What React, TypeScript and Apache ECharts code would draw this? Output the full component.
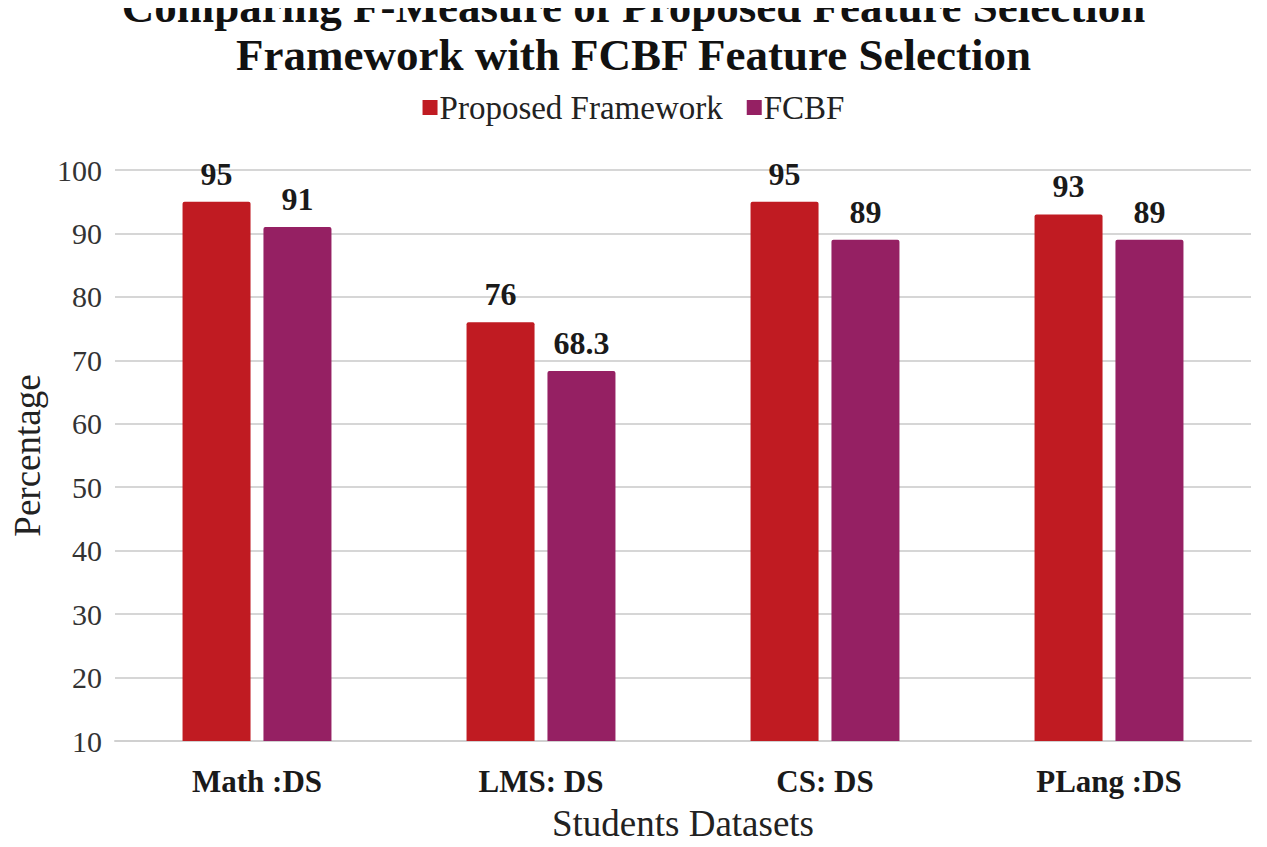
import { useEffect, useRef } from 'react';
import * as echarts from 'echarts';

const categories = ['Math :DS', 'LMS: DS', 'CS: DS', 'PLang :DS'];
const proposed = [95, 76, 95, 93];
const fcbf = [91, 68.3, 89, 89];
const seriesNames = ['Proposed Framework', 'FCBF'];
const yTicks = { min: 10, max: 100, interval: 10 };

const RED = '#C01B22';
const PURPLE = '#952063';
const SERIF = '"Liberation Serif", "Times New Roman", serif';

export default function App() {
  const ref = useRef<HTMLDivElement | null>(null);

  useEffect(() => {
    if (!ref.current) return;
    const chart = echarts.init(ref.current, null, { renderer: 'svg' });

    const label = {
      show: true,
      position: 'top',
      distance: 12,
      color: '#1a1a1a',
      fontSize: 32,
      fontWeight: 'bold',
      fontFamily: SERIF,
    };

    chart.setOption({
      animation: false,
      backgroundColor: '#fff',
      title: {
        text: 'Comparing F-Measure of Proposed Feature Selection\nFramework with FCBF Feature Selection',
        left: 'center',
        top: -22,
        textStyle: {
          color: '#111',
          fontSize: 45,
          fontWeight: 'bold',
          fontFamily: SERIF,
          lineHeight: 48,
        },
      },
      legend: {
        top: 86,
        left: 'center',
        itemWidth: 15,
        itemHeight: 15,
        itemGap: 24,
        icon: 'rect',
        textStyle: { color: '#222', fontSize: 33, fontFamily: SERIF, padding: [0, 0, 0, -3] },
        data: seriesNames,
      },
      grid: { left: 115, right: 16, top: 170, bottom: 106, outerBoundsMode: 'none' },
      xAxis: {
        type: 'category',
        data: categories,
        name: 'Students Datasets',
        nameLocation: 'middle',
        nameGap: 64,
        nameTextStyle: { color: '#222', fontSize: 37, fontFamily: SERIF },
        axisLine: { lineStyle: { color: '#d0d0d0', width: 2 } },
        axisTick: { show: false },
        axisLabel: {
          color: '#1a1a1a',
          fontSize: 31,
          fontWeight: 'bold',
          fontFamily: SERIF,
          margin: 25,
        },
      },
      yAxis: {
        type: 'value',
        min: yTicks.min,
        max: yTicks.max,
        interval: yTicks.interval,
        name: 'Percentage',
        nameLocation: 'middle',
        nameGap: 68,
        nameTextStyle: { color: '#222', fontSize: 37, fontFamily: SERIF },
        axisLine: { show: false },
        axisTick: { show: false },
        splitLine: { lineStyle: { color: '#d6d6d6', width: 2 } },
        axisLabel: {
          color: '#333',
          fontSize: 30,
          fontFamily: SERIF,
          margin: 13,
        },
      },
      series: [
        {
          name: seriesNames[0],
          type: 'bar',
          data: proposed,
          barWidth: 68,
          barGap: '19%',
          itemStyle: { color: RED, borderRadius: [2, 2, 0, 0] },
          label,
        },
        {
          name: seriesNames[1],
          type: 'bar',
          data: fcbf,
          barWidth: 68,
          barGap: '19%',
          itemStyle: { color: PURPLE, borderRadius: [2, 2, 0, 0] },
          label,
        },
      ],
    });

    const handleResize = () => chart.resize();
    window.addEventListener('resize', handleResize);
    return () => {
      window.removeEventListener('resize', handleResize);
      chart.dispose();
    };
  }, []);

  return <div ref={ref} style={{ width: 1267, height: 847, margin: -8 }} />;
}
